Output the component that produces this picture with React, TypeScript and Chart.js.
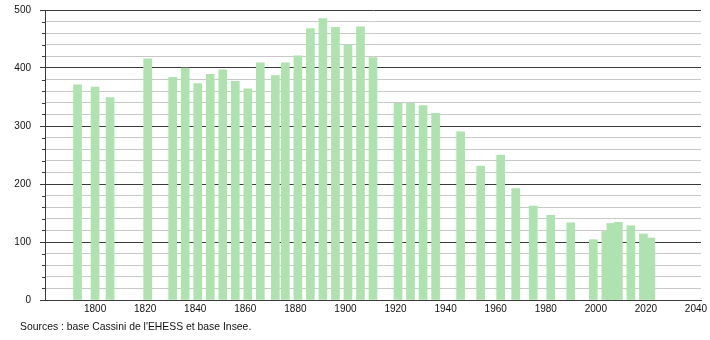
import React, { useEffect, useRef } from "react";
import { Chart, registerables } from "chart.js";

Chart.register(...registerables);

const years = [1793, 1800, 1806, 1821, 1831, 1836, 1841, 1846, 1851, 1856, 1861, 1866, 1872, 1876, 1881, 1886, 1891, 1896, 1901, 1906, 1911, 1921, 1926, 1931, 1936, 1946, 1954, 1962, 1968, 1975, 1982, 1990, 1999, 2004, 2006, 2009, 2014, 2019, 2022];
const population = [371, 367, 349, 416, 384, 400, 373, 389, 397, 377, 364, 409, 387, 409, 421, 468, 485, 470, 440, 471, 418, 339, 339, 335, 322, 290, 231, 250, 192, 162, 146, 133, 104, 118, 132, 134, 128, 114, 107];
const xTickLabels = [1800, 1820, 1840, 1860, 1880, 1900, 1920, 1940, 1960, 1980, 2000, 2020, 2040];
const sourceText = "Sources : base Cassini de l'EHESS et base Insee.";

const FONT = "'Liberation Sans', Arial, Helvetica, sans-serif";
const BAR = "rgb(174,226,174)";
const MAJOR = "#3a3a3a";
const MINOR = "#c8c8c8";

const extrasPlugin = {
  id: "extras",
  afterDraw(chart: any) {
    const ctx = chart.ctx;
    const y = chart.scales.y;
    ctx.save();
    ctx.strokeStyle = MAJOR;
    ctx.lineWidth = 1;
    for (let v = 0; v <= 500; v += 20) {
      if (v % 100 === 0) continue;
      const py = Math.round(y.getPixelForValue(v)) + 0.5;
      ctx.beginPath();
      ctx.moveTo(y.right - 3, py);
      ctx.lineTo(y.right, py);
      ctx.stroke();
    }
    ctx.fillStyle = "#111";
    ctx.font = `10.4px ${FONT}`;
    ctx.textBaseline = "middle";
    ctx.textAlign = "left";
    ctx.fillText(sourceText, 20, 327.5);
    ctx.restore();
  },
};

export default function App() {
  const ref = useRef<HTMLCanvasElement>(null);
  useEffect(() => {
    document.body.style.margin = "0";
    const chart = new Chart(ref.current as HTMLCanvasElement, {
      type: "bar",
      data: {
        datasets: [
          {
            data: years.map((yr, i) => ({ x: yr, y: population[i] })),
            backgroundColor: BAR,
            borderWidth: 0,
            barThickness: 8,
          },
        ],
      },
      options: {
        animation: false,
        responsive: false,
        layout: { padding: { left: 0, top: 10, right: 9, bottom: 0 } },
        plugins: { legend: { display: false }, tooltip: { enabled: false }, title: { display: false } },
        scales: {
          x: {
            type: "linear",
            min: 1780,
            max: 2042,
            offset: false,
            grid: { display: false, drawTicks: false, offset: false },
            border: { display: true, color: MAJOR, width: 1 },
            afterBuildTicks: (scale: any) => {
              scale.ticks = xTickLabels.map((v) => ({ value: v }));
            },
            afterFit: (scale: any) => {
              scale.height = 40;
              scale.paddingLeft = 0;
              scale.paddingRight = 0;
            },
            ticks: {
              autoSkip: false,
              maxRotation: 0,
              padding: 3,
              color: "#111",
              font: { family: FONT, size: 10 },
              callback: (v: any) => String(v),
            },
          },
          y: {
            min: 0,
            max: 500,
            grid: {
              color: (c: any) => (c.tick && c.tick.value % 100 === 0 ? MAJOR : MINOR),
              tickColor: (c: any) => (c.tick && c.tick.value % 100 === 0 ? MAJOR : "rgba(0,0,0,0)"),
              tickLength: 5,
              lineWidth: 1,
            },
            border: { display: true, color: MAJOR, width: 1 },
            afterFit: (scale: any) => {
              scale.width = 45;
              scale.paddingTop = 0;
              scale.paddingBottom = 0;
            },
            ticks: {
              stepSize: 20,
              autoSkip: false,
              padding: 9,
              color: "#111",
              font: { family: FONT, size: 10 },
              callback: (v: any) => (Number(v) % 100 === 0 ? String(v) : ""),
            },
          },
        },
      },
      plugins: [extrasPlugin],
    } as any);
    return () => chart.destroy();
  }, []);
  return (
    <div style={{ position: "absolute", left: 0, top: 0, width: 710, height: 340, background: "#fff" }}>
      <canvas ref={ref} width={710} height={340} />
    </div>
  );
}
